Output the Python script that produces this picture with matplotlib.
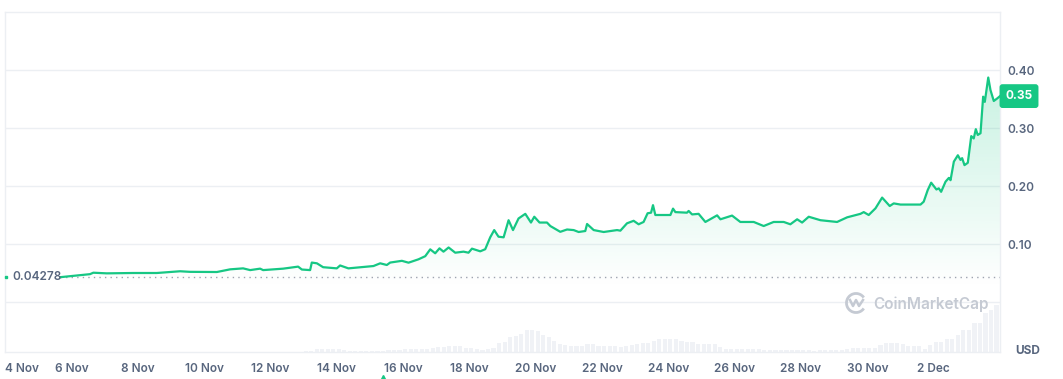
import numpy as np
import matplotlib
matplotlib.use("Agg")
import matplotlib.pyplot as plt
import matplotlib.dates as mdates
import matplotlib.transforms as mtransforms
from matplotlib.patches import Arc
from datetime import datetime, timedelta

plt.rcParams['font.family'] = ['Inter', 'DejaVu Sans']

# ---------------- data ----------------
START = datetime(2024, 11, 4)
END = datetime(2024, 12, 4)

price_hours = [40, 61.5, 63.9, 73.6, 92.7, 109.8, 119.5, 126.7, 133.9, 153.3,
               162.9, 172.3, 177.4, 184.6, 186.8, 201.3, 212.1, 214.8, 220.8, 222.0,
               225.7, 230.2, 240.1, 242.5, 248.5, 266.6, 271.5, 276.3, 278.7, 287.2,
               292.0, 299.2, 304.1, 307.7, 311.3, 314.4, 317.3, 321.0, 325.8, 331.8,
               335.4, 337.9, 343.9, 347.5, 351.1, 354.0, 357.1, 360.8, 364.4, 367.6,
               371.6, 376.5, 380.6, 383.0, 386.8, 392.2, 394.6, 401.8, 406.7, 411.5,
               415.1, 419.9, 421.2, 426.0, 433.2, 442.9, 445.3, 450.1, 454.9, 458.5,
               462.1, 465.0, 467.5, 468.9, 470.6, 481.5, 483.4, 485.1, 493.5, 494.7,
               497.2, 501.9, 506.8, 515.3, 517.7, 526.1, 532.1, 541.8, 549.0, 556.2,
               563.5, 568.3, 573.2, 576.8, 581.6, 590.1, 602.1, 609.4, 619.0, 621.4,
               625.0, 629.9, 634.7, 640.2, 643.1, 648.0, 662.5, 664.8, 667.7, 670.2,
               674.0, 675.7, 677.4, 680.6, 683.0, 684.2, 686.6, 689.5, 691.4, 692.6,
               694.3, 696.7, 699.2, 701.0, 702.5, 703.9, 705.9, 707.8, 709.0, 711.5,
               713.1, 715.5, 718.0, 720.0]

price_values = [0.0428, 0.048, 0.0505, 0.0494, 0.050, 0.050, 0.0517, 0.053, 0.052, 0.0517,
                0.0563, 0.058, 0.055, 0.0575, 0.055, 0.0575, 0.061, 0.056, 0.055, 0.068,
                0.0667, 0.060, 0.058, 0.063, 0.058, 0.062, 0.0667, 0.0638, 0.068, 0.071,
                0.0678, 0.0736, 0.079, 0.0908, 0.084, 0.0925, 0.0868, 0.094, 0.085, 0.0868,
                0.085, 0.092, 0.0874, 0.091, 0.1115, 0.124, 0.1126, 0.1115, 0.141, 0.124,
                0.144, 0.152, 0.137, 0.147, 0.137, 0.137, 0.131, 0.121, 0.125, 0.124,
                0.1207, 0.1224, 0.1345, 0.124, 0.1207, 0.124, 0.123, 0.1357, 0.140, 0.134,
                0.138, 0.153, 0.154, 0.167, 0.150, 0.150, 0.161, 0.155, 0.154, 0.157,
                0.151, 0.152, 0.138, 0.1494, 0.1426, 0.149, 0.138, 0.138, 0.131, 0.138,
                0.138, 0.134, 0.1426, 0.137, 0.147, 0.141, 0.138, 0.146, 0.152, 0.155,
                0.150, 0.1615, 0.180, 0.1655, 0.170, 0.168, 0.168, 0.173, 0.193, 0.2057,
                0.194, 0.196, 0.190, 0.2075, 0.214, 0.210, 0.242, 0.253, 0.245, 0.248,
                0.236, 0.240, 0.286, 0.282, 0.298, 0.288, 0.291, 0.354, 0.345, 0.387,
                0.3655, 0.3466, 0.351, 0.355]

# volume (relative units), one bar every 4 hours starting 212 h after 4 Nov
vol_start_hour = 212
vol_step_hours = 4
volume_values = [0.5, 1, 1, 3.3, 3.3, 3.3, 3.3, 3.3, 2, 1,
                 1, 1, 1, 1, 1, 1.5, 2, 2, 2.5, 3,
                 3, 3, 3.3, 3.3, 4, 5, 5.5, 6.3, 6.3, 6.3,
                 4.3, 4.3, 3, 2.5, 3, 4, 9, 10, 15, 16,
                 18, 22, 22, 21, 17, 15, 11, 8, 7, 6.3,
                 6.3, 6.3, 7.7, 7.7, 6.3, 6.3, 6.3, 6.3, 5.3, 6.5,
                 7.3, 8, 9.3, 9.3, 11, 12.7, 12.7, 12.7, 12.7, 11,
                 10, 10, 8.5, 7.7, 7.7, 7.7, 5, 3.3, 3.3, 3.3,
                 3, 3, 3, 2.8, 2.5, 2.2, 1.7, 1.7, 1.6, 1.7,
                 1.8, 1.7, 1.6, 1.5, 1.6, 1.7, 1.8, 2, 2.5, 3,
                 3.7, 3.7, 3.7, 3.7, 4.5, 7, 9.3, 9.3, 9.3, 8,
                 6, 6, 6, 3.3, 7, 10, 10, 12.7, 12.7, 17,
                 22, 22, 29, 29, 39, 42, 46.7]

tick_dates = [datetime(2024, 11, d) for d in range(4, 31, 2)] + [datetime(2024, 12, 2)]
tick_labels = ['4 Nov', '6 Nov', '8 Nov', '10 Nov', '12 Nov', '14 Nov', '16 Nov',
               '18 Nov', '20 Nov', '22 Nov', '24 Nov', '26 Nov', '28 Nov', '30 Nov', '2 Dec']
price_ticks = [0.10, 0.20, 0.30, 0.40]
price_tick_labels = ['0.10', '0.20', '0.30', '0.40']
ref_price = 0.04278
ref_label = '0.04278'
last_label = '0.35'
event_hour = 273.7

# ---------------- style ----------------
GREEN = '#16c784'
TXT = '#58667e'
GRID = '#eceff3'

price_times = [START + timedelta(hours=h) for h in price_hours]
vol_times = [START + timedelta(hours=vol_start_hour + i * vol_step_hours)
             for i in range(len(volume_values))]

W, H = 1063, 379
fig = plt.figure(figsize=(W / 100, H / 100), dpi=100)
rect = [5 / W, 27 / H, 995 / W, 340 / H]

ax_vol = fig.add_axes(rect)
ax = fig.add_axes(rect, sharex=ax_vol)
ax.patch.set_alpha(0)

# volume
ax_vol.bar(vol_times, volume_values, width=3.0 / 24, align='edge',
           color='#f0f2f6', edgecolor='none')
ax_vol.set_ylim(0, 340)
ax_vol.axis('off')

# price gradient fill
x_num = mdates.date2num(price_times)
poly = ax.fill_between(price_times, price_values, 0, color='none', lw=0)
vals = np.linspace(0, 0.4, 300)
alpha = np.clip(0.65 * (vals - 0.025), 0, 0.3)
rgba = np.zeros((len(vals), 1, 4))
rgba[:, 0, 0] = 22 / 255
rgba[:, 0, 1] = 199 / 255
rgba[:, 0, 2] = 132 / 255
rgba[:, 0, 3] = alpha
im = ax.imshow(rgba, extent=[x_num[0], x_num[-1], 0, 0.4], origin='lower',
               aspect='auto', zorder=1, interpolation='bilinear')
im.set_clip_path(poly.get_paths()[0], transform=ax.transData)

# price line
ax.plot(price_times, price_values, color=GREEN, lw=1.6, zorder=3,
        solid_joinstyle='round')

# reference dotted line
ax.hlines(ref_price, price_times[0], END, colors='#9ea4b0', linestyles=(0, (1, 3)),
          lw=1.0, zorder=2)
blend = mtransforms.blended_transform_factory(ax.transAxes, ax.transData)
ax.text(7 / 995, ref_price, ref_label, transform=blend, ha='left', va='center',
        color=TXT, fontsize=8.5, fontweight='semibold', zorder=4)
ax.plot([0.001], [ref_price], marker='s', ms=1.6, color=GREEN, transform=blend,
        clip_on=False, zorder=4)

# grid
ax.set_ylim(-0.0862, 0.5)
ax.set_xlim(START, END)
for v in [0.0] + price_ticks:
    ax.axhline(v, color=GRID, lw=1.0, zorder=0)
for s in ax.spines.values():
    s.set_color(GRID)
    s.set_linewidth(1.0)

# axes ticks
ax.yaxis.tick_right()
ax.set_yticks(price_ticks)
ax.set_yticklabels(price_tick_labels)
ax.set_xticks(tick_dates)
ax.set_xticklabels(tick_labels)
ax.tick_params(axis='both', length=0, colors=TXT, labelsize=8.5)
ax.tick_params(axis='y', pad=5)
ax.tick_params(axis='x', pad=8)
for lab in ax.get_xticklabels() + ax.get_yticklabels():
    lab.set_fontweight('semibold')
ax.get_xticklabels()[0].set_horizontalalignment('left')

# last price badge
ax.text(1.0 + 19 / 995, price_values[-1], last_label, transform=blend, ha='center',
        va='center', color='white', fontsize=8.5, fontweight='bold', zorder=5,
        bbox=dict(boxstyle='round,pad=0.5,rounding_size=0.25', fc=GREEN, ec='none'),
        clip_on=False)

# USD label
fig.text(1015 / W, 1 - 351 / H, 'USD', ha='left', va='center', color=TXT,
         fontsize=8.5, fontweight='bold')

# watermark
WM = '#c5cad3'
fig.text(873 / W, 1 - 304 / H, 'CoinMarketCap', ha='left', va='center', color=WM,
         fontsize=11, fontweight='semibold')
ident = mtransforms.IdentityTransform()
arc = Arc((856, H - 303), 19, 19, theta1=35, theta2=325, color=WM, lw=2,
          transform=ident)
fig.add_artist(arc)
zig = matplotlib.lines.Line2D([850, 853, 856, 859, 863], [H - 300, H - 306, H - 300, H - 306, H - 300],
                              color=WM, lw=1.8, transform=ident, solid_joinstyle='round')
fig.add_artist(zig)

# event marker
ev_t = START + timedelta(hours=event_hour)
blend_x = mtransforms.blended_transform_factory(ax.transData, ax.transAxes)
ax.plot([ev_t], [-0.075], marker='^', ms=5, color=GREEN, transform=blend_x,
        clip_on=False, zorder=5)

fig.savefig('out.png', dpi=100)
